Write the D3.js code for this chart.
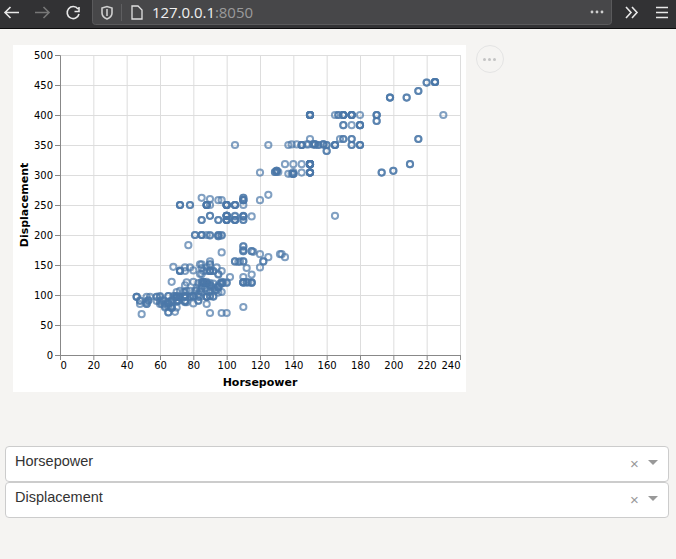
<!DOCTYPE html>
<html><head><meta charset="utf-8">
<script src="https://d3js.org/d3.v7.min.js"></script>
<style>
html,body{margin:0;padding:0;background:#f5f4f2;width:676px;height:559px;overflow:hidden}
#toolbar{position:absolute;left:0;top:0}
#chart{position:absolute;left:13px;top:45px;width:453px;height:347px;background:#fff}
#more{position:absolute;left:476px;top:45px;width:26px;height:26px;border:1px solid #e4e4e4;border-radius:50%}
#more span{position:absolute;top:12px;width:3px;height:3px;border-radius:50%;background:#c4c4c4}
.dd{position:absolute;left:5px;width:662px;height:34px;background:#fff;border:1px solid #ccc;border-radius:4px;font:14.5px "Liberation Sans",Arial,sans-serif;color:#333}
.dd .v{position:absolute;left:9px;top:6px}
.dd .x{position:absolute;left:624px;top:8px;color:#999;font-size:15px}
.dd .c{position:absolute;left:642px;top:13px;width:0;height:0;border:5px solid transparent;border-top-color:#999;border-bottom:0}
</style></head><body>
<svg id="toolbar" width="676" height="29"></svg>
<div id="chart"></div>
<div id="more"><span style="left:6px"></span><span style="left:11px"></span><span style="left:16px"></span></div>
<div class="dd" style="top:446px"><span class="v">Horsepower</span><span class="x">×</span><span class="c"></span></div>
<div class="dd" style="top:482px"><span class="v">Displacement</span><span class="x">×</span><span class="c"></span></div>
<script>
const xTicks=d3.range(0,241,20);
const yTicks=d3.range(0,501,50);
const xTitle="Horsepower", yTitle="Displacement";
const horsepower=[
130,165,150,150,140,198,220,215,225,190,170,160,150,225,95,95,97,85,88,46,
87,90,95,113,90,215,200,210,193,88,90,95,100,105,100,88,100,165,175,153,
150,180,170,175,110,72,100,88,86,90,70,76,65,69,60,70,95,80,54,90,
86,165,175,150,153,150,208,155,160,190,97,150,130,140,150,112,76,87,69,86,
92,97,80,88,175,150,145,137,150,198,150,158,150,215,225,175,105,100,100,88,
95,46,150,167,170,180,100,88,72,94,90,85,107,90,145,230,52,75,91,112,
150,110,122,180,95,100,100,88,67,80,65,75,100,110,105,140,150,80,83,67,
78,52,61,75,75,75,97,93,67,95,105,72,72,170,145,150,148,110,105,110,
95,110,110,129,140,137,150,158,72,72,72,100,78,88,90,105,100,110,83,67,
78,52,61,75,75,97,93,67,70,71,86,90,97,95,115,98,88,81,90,92,
79,83,140,150,120,152,100,105,81,90,52,60,70,53,100,78,110,95,72,88,
58,97,110,71,70,75,102,110,83,58,60,75,63,53,65,86,83,70,85,70,
180,130,150,170,175,110,105,100,150,150,150,165,167,170,170,175,175,180,190,190,
190,180,170,175,180,198,208,220,225,225,160,165,175,180,168,175,170,150,215,105,
125,139,142,145,149,152,153,155,158,160,193,200,210,130,129,131,139,145,150,150,
135,140,145,150,150,165,125,120,85,90,97,110,110,85,95,100,105,100,105,110,
110,115,100,105,88,90,81,85,85,88,90,95,97,77,97,110,110,115,125,133,
135,120,122,120,115,115,110,110,105,108,110,90,97,100,110,49,68,65,65,65,
70,74,75,84,84,84,90,90,90,92,90,88,88,86,85,85,88,92,96,97,
100,100,68,110,115,78,132,75,80,72,70,65,63,63,69,70,71,72,76,78,
80,65,65,67,62,60,58,48,46,48,48,67,75,84,92,88,82,82,88,85,
92,95,112,85,88,94,85,115,116,110,110,90,110,85
];
const displacement=[
307,350,318,304,302,429,454,440,455,390,383,340,400,455,113,198,199,200,97,97,
110,107,104,121,199,360,307,318,304,97,140,113,232,225,250,250,232,350,400,351,
318,383,400,400,258,140,250,250,122,116,79,88,71,72,97,91,113,97.5,97,140,
122,350,400,318,351,304,429,350,350,400,105,304,307,302,318,121,121,120,96,122,
97,120,98,97,350,304,350,302,318,429,400,351,318,440,455,360,225,250,232,250,
198,97,400,400,360,350,232,97,140,108,98,122,155,98,350,400,97,116,114,121,
318,121,156,383,200,232,250,122,79,122,71,140,250,258,225,302,318,98,120,91,
97,88,85,90,88,97,120,108,79,134,156,140,97,400,350,318,351,231,250,258,
225,231,262,305,302,350,318,351,250,250,250,225,250,250,232,231,225,225,97,90,
97,85,91,97,98,120,108,78,97,90,120,120,122,115,121,121,120,107,116,140,
98,101,305,318,304,351,225,250,200,232,85,98,90,91,225,250,250,258,97,85,
97,140,130,97,97,98,130,156,90,97,85,90,79,91,81,120,91,97,111,97,
350,305,400,400,400,231,250,250,400,400,400,400,400,400,400,400,400,400,400,400,
390,383,383,383,383,429,429,454,455,455,340,350,350,350,360,360,360,360,360,350,
350,351,351,350,351,351,351,350,351,350,304,307,318,307,305,305,302,304,304,304,
318,318,318,318,318,232,267,258,262,260,258,262,258,225,225,225,225,232,232,232,
225,231,250,250,250,250,200,200,200,200,200,200,200,183,171,173,181,173,163,168,
163,168,156,146,134,121,121,121,156,156,156,70,70,70,80,68,98,98,86,85,
105,105,105,107,135,151,151,151,140,140,140,140,120,140,135,119,120,119,119,119,
120,121,147,121,120,146,168,146,141,141,98,98,81,85,98,89,91,107,107,107,
86,86,89,122,91,89,90,90,97,85,91,81,89,97,98,112,112,108,107,105,
112,135,145,145,146,146,151,173,172,181,175,156,173,225
];

const W=453,H=347,L=47,T=10,PW=400,PH=300;
const x=d3.scaleLinear().domain([0,240]).range([0,PW]);
const y=d3.scaleLinear().domain([0,500]).range([PH,0]);
const svg=d3.select("#chart").append("svg").attr("width",W).attr("height",H).style("display","block");
svg.append("defs").append("filter").attr("id","soft").attr("x","-5%").attr("y","-5%").attr("width","110%").attr("height","110%")
 .append("feGaussianBlur").attr("stdDeviation",.35);
const g=svg.append("g").attr("transform",`translate(${L},${T})`);
const tickFont='10px "DejaVu Sans",sans-serif';

g.append("g").selectAll("line").data(xTicks).join("line")
 .attr("x1",d=>x(d)+.5).attr("x2",d=>x(d)+.5).attr("y1",0).attr("y2",PH).attr("stroke","#ddd");
g.append("g").selectAll("line").data(yTicks).join("line")
 .attr("y1",d=>y(d)+.5).attr("y2",d=>y(d)+.5).attr("x1",0).attr("x2",PW).attr("stroke","#ddd");

const pts=horsepower.map((h,i)=>[h,displacement[i]]).filter(d=>d[1]!==undefined);
g.append("g").attr("filter","url(#soft)").selectAll("circle").data(pts).join("circle")
 .attr("cx",d=>x(d[0])).attr("cy",d=>y(d[1])).attr("r",3.1)
 .attr("fill","none").attr("stroke","#4c78a8").attr("stroke-width",2).attr("opacity",.7);

const ax=d3.axisBottom(x).tickValues(xTicks).tickSize(5).tickPadding(2);
const gx=g.append("g").attr("transform",`translate(0,${PH})`).call(ax);
gx.selectAll("text").attr("text-anchor",d=>d===0?"start":d===240?"end":"middle");
const ay=d3.axisLeft(y).tickValues(yTicks).tickSize(5).tickPadding(2);
const gy=g.append("g").call(ay);
[gx,gy].forEach(a=>{
  a.select(".domain").attr("stroke","#888");
  a.selectAll(".tick line").attr("stroke","#888");
  a.selectAll("text").style("font",tickFont).attr("fill","#000");
});
svg.append("text").attr("x",L+PW/2).attr("y",T+PH+31).attr("text-anchor","middle")
 .style("font",'bold 11px "DejaVu Sans",sans-serif').text(xTitle);
svg.append("text").attr("transform",`translate(15,${T+PH/2}) rotate(-90)`).attr("text-anchor","middle")
 .style("font",'bold 11px "DejaVu Sans",sans-serif').text(yTitle);

// browser toolbar
const tb=d3.select("#toolbar");
tb.append("rect").attr("width",676).attr("height",28).attr("fill","#323234");
tb.append("rect").attr("y",28).attr("width",676).attr("height",1).attr("fill","#0c0c0d");
tb.append("rect").attr("x",92.5).attr("y",-3).attr("width",519).attr("height",27.5).attr("rx",3).attr("fill","#474749").attr("stroke","#5a5a5c");
const ic=(d,c,w)=>tb.append("path").attr("d",d).attr("fill","none").attr("stroke",c).attr("stroke-width",w||1.6);
ic("M19 12.5H5M10.5 7L5 12.5L10.5 18","#e8e8e8");
ic("M35 12.5H49M43.5 7L49 12.5L43.5 18","#777");
ic("M78 9A6 6 0 1 0 79 14M79 7V11.5H74.5","#e8e8e8");
ic("M102 8L107 6.5L112 8V13Q112 17 107 19Q102 17 102 13Z","#cfcfcf");
ic("M107 9V16","#cfcfcf");
tb.append("line").attr("x1",121.5).attr("x2",121.5).attr("y1",4).attr("y2",21).attr("stroke","#5f5f61");
ic("M132 6H138L142 10V19H132Z","#e0e0e0",1.3);
const t=tb.append("text").attr("x",152).attr("y",18).style("font",'15px "Open Sans",sans-serif').attr("fill","#f0f0f0").attr("textLength",101);
t.append("tspan").text("127.0.0.1");
t.append("tspan").attr("fill","#9a9a9b").text(":8050");
[592,597,602].forEach(c=>tb.append("circle").attr("cx",c).attr("cy",12).attr("r",1.4).attr("fill","#cfcfcf"));
ic("M626 7L631 12.5L626 18M632 7L637 12.5L632 18","#e8e8e8");
ic("M656 7.5H668M656 12.5H668M656 17.5H668","#e8e8e8");
</script>
</body></html>
